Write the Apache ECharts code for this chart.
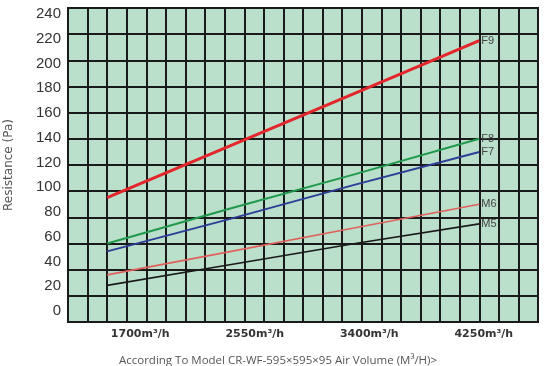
<!DOCTYPE html>
<html><head><meta charset="utf-8">
<script src="https://cdn.jsdelivr.net/npm/echarts@6/dist/echarts.min.js"></script>
<style>html,body{margin:0;padding:0;background:#fff}#c{width:560px;height:366px}</style>
</head><body><div id="c"></div>
<script>
var airflow = [1700, 2550, 3400, 4250];
var tickLabels = ['1700m³/h', '2550m³/h', '3400m³/h', '4250m³/h'];
var seriesNames = ['F9', 'F8', 'F7', 'M6', 'M5'];
var F9 = [95, 135, 175, 215];
var F8 = [60, 87, 113, 140];
var F7 = [54, 79, 105, 130];
var M6 = [36, 54, 72, 90];
var M5 = [28, 44, 60, 75];
var yTickValues = [0, 20, 40, 60, 80, 100, 120, 140, 160, 180, 200, 220, 240];

var values = [F9, F8, F7, M6, M5];
var colors = ['#e3262b', '#1f9a4c', '#2e3d97', '#e0615c', '#1a1a1a'];
var widths = [3, 2, 2, 1.6, 1.6];

// data axis: 1700 sits on column 2, 4250 on column 21 of a 24-column grid
var step = (airflow[3] - airflow[0]) / 19;
var dMin = airflow[0] - 2 * step, dMax = airflow[3] + 3 * step;
// label axes: tick labels are offset from the grid in the reference
var lMin = 1164, lMax = 4652;
var yLMin = -8.9, yLMax = 244.8;

var chart = echarts.init(document.getElementById('c'));
chart.setOption({
  animation: false,
  backgroundColor: '#fff',
  grid: {left: 68, right: 22, top: 8, bottom: 44, outerBoundsMode: 'none', containLabel: false,
    show: true, backgroundColor: '#badfca', borderColor: '#1a1a1a', borderWidth: 2},
  xAxis: [
    {type: 'value', min: dMin, max: dMax, show: false},
    {type: 'value', min: 0, max: 24, interval: 1, position: 'bottom',
      axisLine: {show: false}, axisTick: {show: false}, axisLabel: {show: false},
      splitLine: {show: true, lineStyle: {color: '#1a1a1a', width: 2}}},
    {type: 'value', min: lMin, max: lMax, position: 'bottom',
      axisLine: {show: false}, axisTick: {show: false}, splitLine: {show: false},
      axisLabel: {customValues: airflow, formatter: function (v) { return tickLabels[airflow.indexOf(v)]; },
        fontFamily: 'DejaVu Sans', fontWeight: 'bold', fontSize: 11, color: '#333', margin: 7},
      name: 'According To Model CR-WF-595×595×95 Air Volume (M³/H)>', nameLocation: 'middle', nameGap: 33,
      nameTextStyle: {fontFamily: 'Open Sans', fontSize: 11.5, color: '#555', padding: [0, 50, 0, 0]}}
  ],
  yAxis: [
    {type: 'value', min: yTickValues[0], max: yTickValues[yTickValues.length - 1], interval: 20,
      axisLine: {show: false}, axisTick: {show: false}, axisLabel: {show: false},
      splitLine: {show: true, lineStyle: {color: '#1a1a1a', width: 2}}},
    {type: 'value', min: yLMin, max: yLMax, position: 'left',
      axisLine: {show: false}, axisTick: {show: false}, splitLine: {show: false},
      axisLabel: {customValues: yTickValues, fontFamily: 'Liberation Sans', fontSize: 15, color: '#333', margin: 7},
      name: 'Resistance (Pa)', nameLocation: 'middle', nameGap: 53,
      nameTextStyle: {fontFamily: 'DejaVu Sans', fontSize: 12, color: '#555'}}
  ],
  series: seriesNames.map(function (n, i) {
    return {
      name: n, type: 'line', xAxisIndex: 0, yAxisIndex: 0, symbol: 'none',
      data: airflow.map(function (x, j) { return [x, values[i][j]]; }),
      lineStyle: {color: colors[i], width: widths[i]},
      endLabel: {show: true, formatter: n, color: '#444', fontFamily: 'Liberation Sans', fontSize: 11, distance: 2}
    };
  })
});
</script></body></html>
